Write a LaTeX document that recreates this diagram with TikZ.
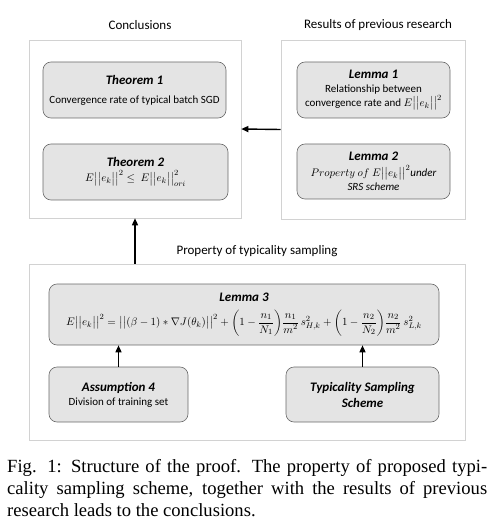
\documentclass[tikz,border=0pt]{standalone}
\usepackage{fontspec}
\setmainfont{Carlito}
\newfontfamily\capfont{Liberation Serif}
\usepackage{amsmath}
\usepackage{tikz}
\usetikzlibrary{arrows.meta}
\definecolor{boxgray}{HTML}{E4E4E4}
\definecolor{boxline}{HTML}{6A6A6A}
\definecolor{framegray}{HTML}{D2D2D2}

\tikzset{
  frame/.style={draw=framegray, line width=0.6pt},
  resultbox/.style={fill=boxgray, draw=boxline, line width=0.6pt,
                    rounded corners=8pt, align=center, inner sep=2pt,
                    font=\fontsize{11}{14}\selectfont},
  grouptitle/.style={font=\fontsize{13}{15}\selectfont},
  proofarrow/.style={-{Triangle[length=7pt,width=6pt]}, line width=1.4pt}
}
\newcommand{\boxtitle}[1]{{\fontsize{13}{15}\selectfont\bfseries\itshape #1}}
\newcommand{\enorm}{E\bigl|\bigl|e_k\bigr|\bigr|^2}

\begin{document}
\begin{tikzpicture}[x=1pt, y=-1pt]
    \useasboundingbox (0,0) rectangle (500,529);

    % group frames
    \node[frame, minimum width=212pt, minimum height=178pt] (concl) at (135,129) {};
    \node[frame, minimum width=184pt, minimum height=179pt] (prev) at (373,129.5) {};
    \node[frame, minimum width=436pt, minimum height=176pt] (typ) at (247,352) {};

    \node[grouptitle] (conclt) at (140,25) {Conclusions};
    \node[grouptitle] (prevt) at (378,25) {Results of previous research};
    \node[grouptitle] (typt) at (257,251) {Property of typicality sampling};

    % conclusions
    \node[resultbox, minimum width=183pt, minimum height=56pt] (thm1) at (134.5,90) {%
      \boxtitle{Theorem 1}\\[5pt]
      Convergence rate of typical batch SGD};
    \node[resultbox, minimum width=185pt, minimum height=56pt] (thm2) at (135.5,172) {%
      \boxtitle{Theorem 2}\\[1pt]
      $\enorm \le\ E\bigl|\bigl|e_k\bigr|\bigr|^2_{ori}$};

    % previous research
    \node[resultbox, minimum width=153pt, minimum height=56pt] (lem1) at (373.5,90) {%
      \boxtitle{Lemma 1}\\
      Relationship between\\
      convergence rate and $\enorm$};
    \node[resultbox, minimum width=153pt, minimum height=55pt] (lem2) at (373.5,171.5) {%
      \boxtitle{Lemma 2}\\[2pt]
      $Property\ of\ \enorm$\textit{under}\\
      \textit{SRS scheme}};

    % typicality sampling
    \node[resultbox, minimum width=390pt, minimum height=61pt,
          font=\fontsize{11}{14}\selectfont] (lem3) at (244,314.5) {%
      \boxtitle{Lemma 3}\\[7pt]
      $\enorm = \bigl|\bigl|(\beta-1)*\nabla J(\theta_k)\bigr|\bigr|^2
        + \biggl(1-\dfrac{n_1}{N_1}\biggr)\dfrac{n_1}{m^2}\,s^2_{H,k}
        + \biggl(1-\dfrac{n_2}{N_2}\biggr)\dfrac{n_2}{m^2}\,s^2_{L,k}$};
    \node[resultbox, minimum width=139pt, minimum height=55pt] (asm4) at (118.5,394.5) {%
      \boxtitle{Assumption 4}\\
      Division of training set};
    \node[resultbox, minimum width=153pt, minimum height=55pt] (tss) at (362.5,394.5) {%
      \boxtitle{Typicality Sampling}\\[2pt]
      \boxtitle{Scheme}};

    % arrows
    \draw[proofarrow] (prev.west) -- (concl.east);
    \draw[proofarrow] (concl.south |- typ.north) -- (concl.south);
    \draw[proofarrow] (asm4.north) -- (asm4.north |- lem3.south);
    \draw[proofarrow] (tss.north) -- (tss.north |- lem3.south);

    % caption
    \node[anchor=base west, text width=480pt, inner sep=0pt, align=justify,
          font=\capfont\fontsize{18.6}{22.3}\selectfont] (cap) at (7,472) {%
      Fig. 1: Structure of the proof. The property of proposed typi-\linebreak
      cality sampling scheme, together with the results of previous\linebreak
      research leads to the conclusions.};
\end{tikzpicture}
\end{document}
